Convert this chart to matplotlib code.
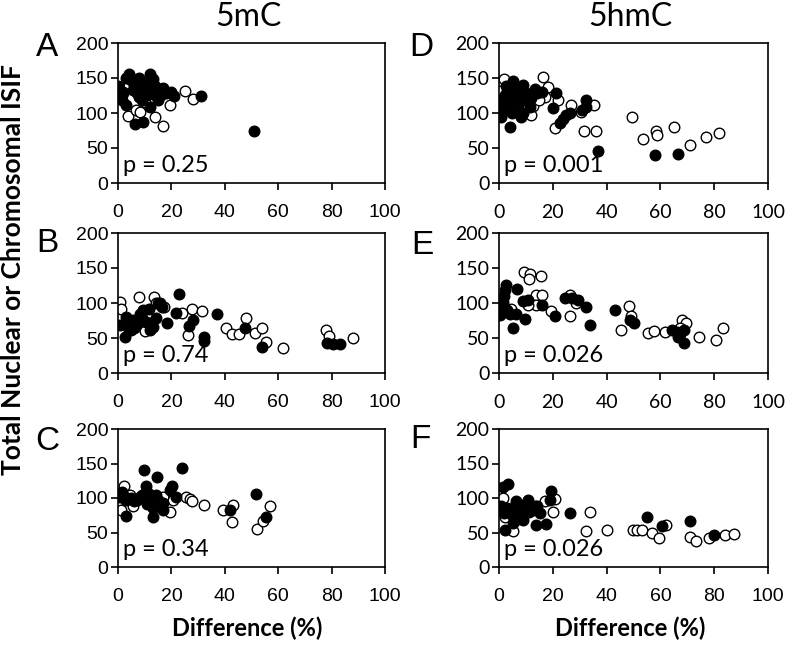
import numpy as np
import matplotlib.pyplot as plt

# panel A (5mC)
a_fill_x = [51, 31, 6.4, 9.5, 4, 12, 0, 1, 1.6, 5, 10, 14, 18, 21, 15, 12, 8, 5.5, 2, 7, 11, 16, 3, 9,
            3, 8, 13, 6, 17, 20, 2, 9, 14, 11]
a_fill_y = [75, 124, 84, 87, 156, 156, 139, 123, 119, 147, 143, 138, 128, 124, 119, 109, 123, 133, 130, 140, 126, 132, 112, 118,
            150, 150, 148, 140, 135, 130, 128, 130, 125, 136]
a_open_x = [25, 28, 19.5, 17, 14, 3.6, 6.9, 8.2, 4, 7, 10, 16, 12]
a_open_y = [132, 120, 111, 82, 94, 96, 104, 102, 140, 128, 115, 125, 130]

# panel B (5mC)
b_fill_x = [22.9, 36.9, 32.1, 32.1, 47.5, 54.1, 78.1, 80.6, 83.1, 26.6, 28.1, 21.6, 18.5, 15.6, 16.3,
            0.6, 2.5, 3.1, 5.6, 8.1, 9.4, 10.6, 13.1, 14.4, 11.6, 6.3, 5, 11.9, 15,
            3, 7, 9, 12, 4]
b_fill_y = [113, 84, 52, 46, 65, 37, 43, 42, 41, 67, 76, 86, 72, 100, 95,
            68, 52, 80, 76, 84, 90, 73, 66, 78, 92, 66, 61, 61, 100,
            70, 72, 78, 72, 62]
b_open_x = [0.9, 1.25, 7.9, 13.4, 14.4, 17.3, 24.1, 27.9, 31.6, 26.3, 40.6, 42.8, 45.4, 48.1, 51.3,
            53.8, 55.6, 61.9, 77.9, 79.1, 87.9, 12.5, 6, 10]
b_open_y = [101, 91, 108, 108, 100, 94, 86, 92, 89, 54, 65, 56, 56, 78, 57,
            64, 44, 36, 62, 53, 50, 67, 64, 60]

# panel C (5mC)
c_fill_x = [9.6, 14.6, 24.1, 20.3, 19.4, 21.9, 10.6, 13.1, 2.9, 0, 1.6, 3.1, 16.9, 51.6, 41.9, 55.4,
            8.1, 11.3, 14.4, 6, 17, 2, 5, 7, 9, 12, 15, 13, 11]
c_fill_y = [141, 131, 143, 118, 112, 102, 117, 73, 74, 102, 109, 97, 83, 106, 83, 73,
            102, 107, 105, 95, 93, 105, 100, 97, 104, 100, 97, 85, 92]
c_open_x = [25.6, 26.9, 27.9, 32.1, 39.4, 42.9, 42.8, 52.1, 54.4, 56.9, 19.4, 20.6, 2.1, 0, 1.25,
            5.6, 4.4, 16.9]
c_open_y = [102, 98, 95, 90, 83, 90, 65, 55, 66, 89, 79, 97, 118, 87, 83,
            88, 105, 102]

# panel D (5hmC)
d_fill_x = [36.8, 57.9, 66.7, 20, 21.3, 23.8, 25, 26.5, 22.6, 32.2, 32.5, 31, 4, 0.9, 8.3,
            5.2, 2.7, 6.4, 7.7, 10.2, 13.3, 1.5, 4, 5.8, 11.4, 8.9, 0.2, 2.1,
            3, 6, 9, 12, 4, 7, 10, 14, 16, 1, 5, 9]
d_fill_y = [46, 40, 42, 107, 128, 92, 97, 100, 86, 118, 109, 105, 80, 95, 95,
            145, 138, 133, 119, 128, 134, 114, 107, 123, 109, 140, 119, 126,
            130, 127, 125, 122, 115, 112, 118, 128, 130, 105, 100, 100]
d_open_x = [16.4, 18.2, 17, 21.9, 20.7, 26.9, 30.6, 31.5, 35.9, 35.3, 49.4, 53.5, 58.2, 58.7, 65,
            71.1, 76.8, 81.7, 12, 12.6, 2, 0.2, 15]
d_open_y = [151, 137, 123, 119, 79, 111, 102, 75, 75, 111, 95, 63, 75, 68, 80,
            55, 66, 72, 97, 110, 148, 131, 119]

# panel E (5hmC)
e_fill_x = [2.5, 2.1, 6.7, 5.2, 9.6, 8.9, 10.8, 15.8, 21, 24.7, 27.3, 29.4, 32.2, 33.8, 43.1,
            50.3, 48.7, 0.9, 4, 6.5, 67.3, 68.6, 66.1, 66.7, 64.2, 68.6, 0.2, 1.5,
            1, 3, 2]
e_fill_y = [126, 119, 120, 64, 77, 103, 105, 97, 81, 107, 107, 105, 94, 68, 90,
            72, 76, 90, 85, 85, 56, 43, 59, 52, 62, 61, 83, 102,
            95, 90, 110]
e_open_x = [9.2, 11.7, 11.1, 15.5, 13.9, 15.8, 13.9, 19.5, 26.3, 26.3, 28.8, 48.4, 49, 45.2, 55.5,
            57.6, 61.7, 67.9, 69.5, 74.4, 80.7, 83.2, 67.3, 10.8, 4.6]
e_open_y = [145, 142, 135, 139, 111, 111, 97, 89, 81, 111, 100, 96, 81, 61, 57,
            60, 59, 76, 72, 51, 47, 64, 64, 97, 91]

# panel F (5hmC)
f_fill_x = [3.4, 1.5, 2.1, 26.3, 19.3, 18.9, 54.9, 60.5, 70.9, 80.1, 17.4, 13.9, 6.5, 10.8, 7.7,
            5.2, 8.9, 4, 0.9, 12.7, 15.2, 3, 6, 9, 11, 14, 7, 2, 5]
f_fill_y = [120, 116, 54, 78, 110, 97, 72, 59, 67, 47, 63, 61, 95, 97, 78,
            64, 68, 83, 88, 83, 78, 85, 88, 90, 80, 88, 70, 78, 75]
f_open_x = [34, 32.3, 40, 49.9, 51.4, 53, 56.8, 59.6, 62.1, 70.9, 73.4, 78, 84.1, 87.2, 20.7,
            20.1, 17, 13.3, 5.2, 1.5, 2.1, 11.4]
f_open_y = [79, 52, 54, 53, 53, 53, 50, 42, 61, 43, 37, 42, 47, 48, 98,
            80, 95, 88, 52, 100, 73, 84]

p_values = ["p = 0.25", "p = 0.74", "p = 0.34", "p = 0.001", "p = 0.026", "p = 0.026"]
letters = ["A", "B", "C", "D", "E", "F"]
col_titles = ["5mC", "5hmC"]
x_ticks = [0, 20, 40, 60, 80, 100]
y_ticks = [0, 50, 100, 150, 200]

panels = [
    (a_fill_x, a_fill_y, a_open_x, a_open_y),
    (b_fill_x, b_fill_y, b_open_x, b_open_y),
    (c_fill_x, c_fill_y, c_open_x, c_open_y),
    (d_fill_x, d_fill_y, d_open_x, d_open_y),
    (e_fill_x, e_fill_y, e_open_x, e_open_y),
    (f_fill_x, f_fill_y, f_open_x, f_open_y),
]

W, H = 793, 650
fig = plt.figure(figsize=(W / 100, H / 100), dpi=100)

# axes boxes in pixels: left, right, top, bottom
col_px = [(118, 385), (499, 768)]
row_px = [(43, 183), (233, 373), (429, 567)]
letter_px = [(47, 48), (47, 243), (47, 442), (421, 47), (422, 245), (420, 440)]

for i, (fx, fy, ox, oy) in enumerate(panels):
    col = i // 3
    row = i % 3
    l, r = col_px[col]
    t, b = row_px[row]
    ax = fig.add_axes([l / W, 1 - b / H, (r - l) / W, (b - t) / H])
    ax.scatter(ox, oy, s=58, facecolor="white", edgecolor="black", linewidth=1.0, zorder=2)
    ax.scatter(fx, fy, s=58, facecolor="black", edgecolor="black", linewidth=1.0, zorder=3)
    ax.set_xlim(0, 100)
    ax.set_ylim(0, 200)
    ax.set_xticks(x_ticks)
    ax.set_yticks(y_ticks)
    tick_font = ["Liberation Sans"] if col == 0 else ["Lato", "DejaVu Sans"]
    ax.tick_params(direction="out", length=5, width=1.2, pad=2, labelsize=14)
    ax.tick_params(axis="x", pad=10)
    for lab in ax.get_yticklabels():
        lab.set_family(tick_font)
    for lab in ax.get_xticklabels():
        if row == 2:
            lab.set_family(["Liberation Sans Narrow", "Liberation Sans"])
        else:
            lab.set_family(tick_font)
    for s in ax.spines.values():
        s.set_linewidth(1.2)
    ax.text(0.02, 0.08, p_values[i], transform=ax.transAxes, fontsize=17,
            family=["Lato", "DejaVu Sans"], va="baseline", ha="left")
    lx, ly = letter_px[i]
    fig.text(lx / W, 1 - ly / H, letters[i], fontsize=24, family="Liberation Sans",
             ha="center", va="center")

fig.text(248 / W, 1 - 17 / H, col_titles[0], fontsize=23, family=["Lato", "DejaVu Sans"],
         ha="center", va="center")
fig.text(630 / W, 1 - 17 / H, col_titles[1], fontsize=23, family=["Lato", "DejaVu Sans"],
         ha="center", va="center")

fig.text(13 / W, 1 - 270 / H, "Total Nuclear or Chromosomal ISIF", rotation=90, fontsize=19,
         fontweight="bold", family=["Lato", "DejaVu Sans"], ha="center", va="center")
fig.text(247 / W, 1 - 628 / H, "Difference (%)", fontsize=17, fontweight="bold",
         family=["Lato", "DejaVu Sans"], ha="center", va="center")
fig.text(630 / W, 1 - 628 / H, "Difference (%)", fontsize=17, fontweight="bold",
         family=["Lato", "DejaVu Sans"], ha="center", va="center")

fig.savefig("out.png", dpi=100)
